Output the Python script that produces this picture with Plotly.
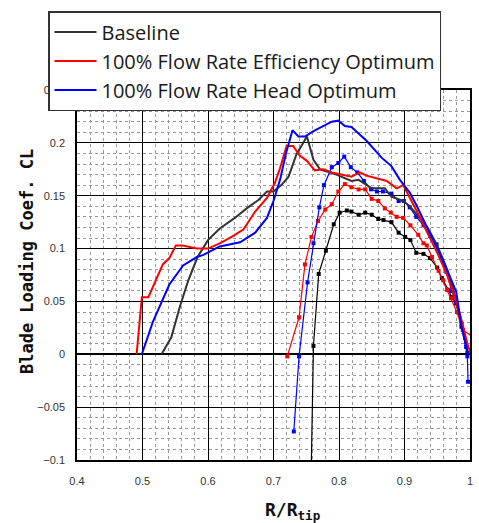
import plotly.graph_objects as go

# Solid curves (no markers)
base_x = [0.529, 0.544, 0.557, 0.570, 0.584, 0.600, 0.618, 0.641, 0.659, 0.677, 0.690, 0.700, 0.712, 0.723, 0.735, 0.751, 0.761, 0.771, 0.796, 0.819, 0.830, 0.842, 0.850, 0.870, 0.880, 0.898, 0.908, 0.919, 0.935, 0.950, 0.962, 0.975, 0.985, 0.993, 0.997]
base_y = [0.000, 0.016, 0.045, 0.070, 0.092, 0.108, 0.119, 0.129, 0.138, 0.146, 0.154, 0.154, 0.160, 0.168, 0.189, 0.206, 0.184, 0.175, 0.170, 0.164, 0.165, 0.160, 0.157, 0.157, 0.149, 0.145, 0.140, 0.132, 0.120, 0.103, 0.085, 0.060, 0.037, 0.012, 0.000]

eff_x = [0.491, 0.499, 0.509, 0.531, 0.541, 0.551, 0.561, 0.583, 0.600, 0.618, 0.636, 0.654, 0.672, 0.690, 0.702, 0.710, 0.720, 0.730, 0.740, 0.751, 0.763, 0.776, 0.789, 0.819, 0.832, 0.842, 0.860, 0.873, 0.888, 0.898, 0.919, 0.934, 0.950, 0.965, 0.978, 0.989, 0.996, 1.003]
eff_y = [0.000, 0.054, 0.054, 0.085, 0.091, 0.103, 0.103, 0.100, 0.100, 0.105, 0.111, 0.118, 0.135, 0.148, 0.162, 0.176, 0.197, 0.197, 0.188, 0.183, 0.174, 0.175, 0.172, 0.168, 0.172, 0.169, 0.166, 0.164, 0.157, 0.160, 0.135, 0.116, 0.096, 0.075, 0.052, 0.028, 0.010, -0.003]

head_x = [0.499, 0.516, 0.541, 0.562, 0.583, 0.593, 0.618, 0.649, 0.672, 0.690, 0.700, 0.710, 0.719, 0.729, 0.738, 0.748, 0.761, 0.771, 0.789, 0.799, 0.809, 0.819, 0.842, 0.865, 0.880, 0.893, 0.908, 0.919, 0.934, 0.950, 0.965, 0.979, 0.987, 0.994, 0.997]
head_y = [0.000, 0.031, 0.066, 0.084, 0.092, 0.094, 0.102, 0.106, 0.115, 0.129, 0.145, 0.165, 0.190, 0.212, 0.206, 0.206, 0.211, 0.214, 0.220, 0.221, 0.216, 0.215, 0.202, 0.186, 0.178, 0.165, 0.153, 0.140, 0.121, 0.100, 0.080, 0.059, 0.026, 0.007, 0.000]

# Curves with square markers
base_m_x = [0.757, 0.761, 0.769, 0.780, 0.792, 0.801, 0.812, 0.819, 0.830, 0.840, 0.850, 0.860, 0.868, 0.880, 0.891, 0.901, 0.909, 0.918, 0.929, 0.939, 0.950, 0.957, 0.967, 0.972, 0.979, 0.987, 0.996]
base_m_y = [-0.130, 0.008, 0.076, 0.098, 0.123, 0.134, 0.136, 0.135, 0.132, 0.134, 0.132, 0.128, 0.127, 0.125, 0.115, 0.111, 0.108, 0.096, 0.095, 0.091, 0.082, 0.072, 0.061, 0.054, 0.048, 0.026, 0.001]

eff_m_x = [0.721, 0.739, 0.748, 0.758, 0.768, 0.779, 0.789, 0.799, 0.809, 0.819, 0.830, 0.840, 0.850, 0.860, 0.870, 0.879, 0.888, 0.898, 0.909, 0.921, 0.929, 0.934, 0.942, 0.952, 0.959, 0.965, 0.971, 0.980, 0.989, 1.003]
eff_m_y = [-0.002, 0.035, 0.085, 0.111, 0.126, 0.137, 0.142, 0.154, 0.161, 0.158, 0.156, 0.156, 0.147, 0.145, 0.138, 0.134, 0.130, 0.129, 0.122, 0.113, 0.105, 0.103, 0.092, 0.079, 0.070, 0.061, 0.053, 0.040, 0.023, 0.017]

head_m_x = [0.731, 0.739, 0.752, 0.761, 0.770, 0.777, 0.789, 0.799, 0.808, 0.818, 0.828, 0.838, 0.849, 0.858, 0.867, 0.880, 0.891, 0.899, 0.908, 0.918, 0.929, 0.939, 0.949, 0.956, 0.964, 0.972, 0.979, 0.987, 0.994, 0.996, 0.997]
head_m_y = [-0.073, -0.002, 0.068, 0.105, 0.139, 0.160, 0.177, 0.181, 0.187, 0.177, 0.172, 0.164, 0.156, 0.154, 0.154, 0.152, 0.145, 0.145, 0.139, 0.130, 0.122, 0.112, 0.104, 0.091, 0.078, 0.060, 0.049, 0.029, 0.007, -0.002, -0.026]

names = ["Baseline", "100% Flow Rate Efficiency Optimum", "100% Flow Rate Head Optimum"]
colors = ["#333333", "#ff0000", "#0000ff"]
marker_colors = ["#000000", "#ff0000", "#0000ff"]

fig = go.Figure()
solid = [(base_x, base_y), (eff_x, eff_y), (head_x, head_y)]
marked = [(base_m_x, base_m_y), (eff_m_x, eff_m_y), (head_m_x, head_m_y)]

for i, (xs, ys) in enumerate(marked):
    fig.add_trace(go.Scatter(x=xs, y=ys, mode="lines+markers", showlegend=False,
                             line=dict(color=marker_colors[i], width=1.2),
                             marker=dict(symbol="square", size=4, color=marker_colors[i])))
for i, (xs, ys) in enumerate(solid):
    fig.add_trace(go.Scatter(x=xs, y=ys, mode="lines", name=names[i],
                             line=dict(color=colors[i], width=2)))

fig.update_layout(
    width=479, height=523,
    margin=dict(l=77, r=9, t=90, b=63, autoexpand=False),
    paper_bgcolor="white", plot_bgcolor="white",
    font=dict(family="Liberation Sans", size=11, color="#333"),
    legend=dict(xref="container", yref="container", x=48 / 479, y=1 - 11 / 523,
                xanchor="left", yanchor="top",
                bgcolor="white", bordercolor="#333", borderwidth=1.5,
                font=dict(family="Open Sans", size=20, color="#1a1a1a"),
                traceorder="normal", itemwidth=42),
    xaxis=dict(range=[0.4, 1.0], dtick=0.1, tick0=0.4, showgrid=True, gridcolor="#000", gridwidth=1,
               zeroline=False, showline=True, linecolor="#000", linewidth=1.5, mirror=True,
               minor=dict(dtick=0.02, showgrid=True, gridcolor="#999", griddash="dot", gridwidth=1),
               ticks="", ticklabelstandoff=10, automargin=False),
    yaxis=dict(range=[-0.1, 0.25], dtick=0.05, tick0=0, showgrid=True, gridcolor="#000", gridwidth=1,
               zeroline=True, zerolinecolor="#000", zerolinewidth=1.5,
               showline=True, linecolor="#000", linewidth=1.5, mirror=True,
               minor=dict(dtick=0.01, showgrid=True, gridcolor="#999", griddash="dot", gridwidth=1),
               ticks="", ticklabelstandoff=8, automargin=False),
)

fig.add_annotation(text="Blade Loading Coef. CL", xref="paper", yref="paper",
                   x=(27 - 77) / 393, y=0.535, xanchor="center", yanchor="middle",
                   textangle=-90, showarrow=False,
                   font=dict(family="DejaVu Sans Mono", size=17, color="#111", weight="bold"))

fig.add_annotation(text="R/R<sub>tip</sub>", xref="paper", yref="paper",
                   x=(263 - 77) / 393, y=-0.1, xanchor="left", yanchor="top", showarrow=False,
                   font=dict(family="DejaVu Sans Mono", size=18, color="#111", weight="bold"))

fig.write_html("out.html")
